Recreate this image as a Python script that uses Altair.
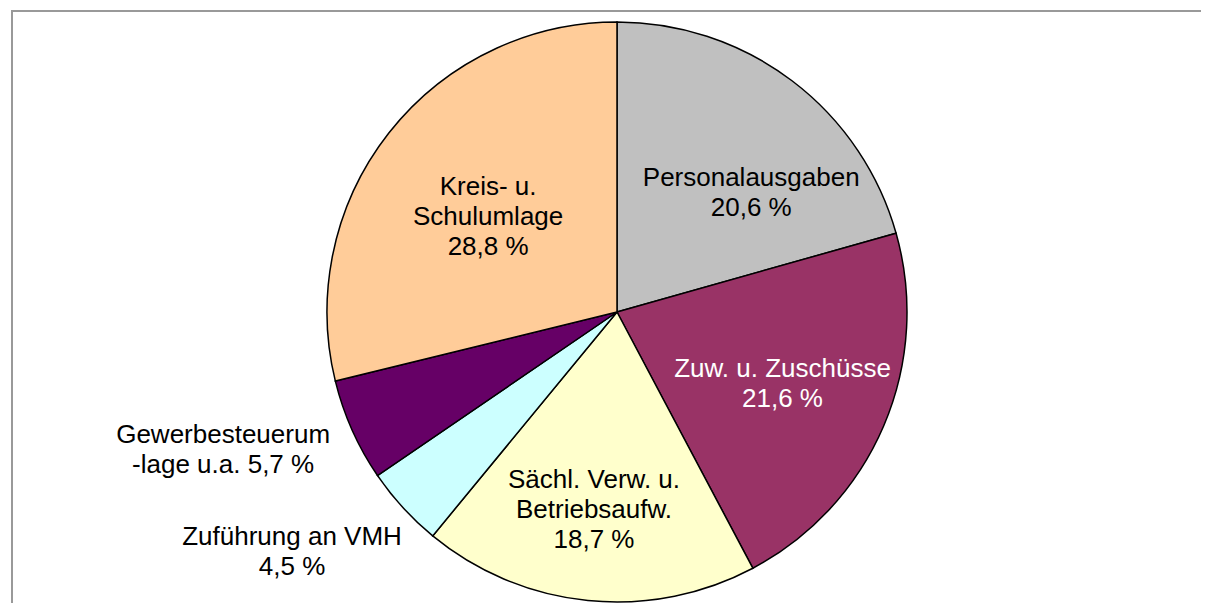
import altair as alt
import pandas as pd

# --- data ---
categories = [
    "Personalausgaben",
    "Zuw. u. Zuschüsse",
    "Sächl. Verw. u. Betriebsaufw.",
    "Zuführung an VMH",
    "Gewerbesteuerumlage u.a.",
    "Kreis- u. Schulumlage",
]
values = [20.6, 21.6, 18.7, 4.5, 5.7, 28.8]
labels = [
    "Personalausgaben\n20,6 %",
    "Zuw. u. Zuschüsse\n21,6 %",
    "Sächl. Verw. u.\nBetriebsaufw.\n18,7 %",
    "Zuführung an VMH\n4,5 %",
    "Gewerbesteuerum\n-lage u.a. 5,7 %",
    "Kreis- u.\nSchulumlage\n28,8 %",
]

# --- style / layout ---
colors = ["#C0C0C0", "#993366", "#FFFFCC", "#CCFFFF", "#660066", "#FFCC99"]
label_radius = [176, 180, 199, 401, 416, 160]
label_dx = [28, 0, -3, -29, -14, -3]
label_dy = [6, -14, -30, -46, -47, -26]
W, H = 1193, 595
CX, CY, R = 609, 304, 290

df = pd.DataFrame({
    "cat": categories,
    "value": values,
    "label": labels,
    "idx": list(range(len(categories))),
})

base = alt.Chart(df)

pie = base.mark_arc(outerRadius=R, stroke="black", strokeWidth=1.5).encode(
    theta=alt.Theta("value:Q", stack=True),
    color=alt.Color("cat:N", scale=alt.Scale(domain=categories, range=colors), legend=None),
    order=alt.Order("idx:Q"),
    x=alt.value(CX),
    y=alt.value(CY),
)

layers = [pie]
for i, c in enumerate(categories):
    txt = base.mark_text(
        radius=label_radius[i],
        dx=label_dx[i],
        dy=label_dy[i],
        font="Liberation Sans",
        fontSize=26,
        lineHeight=30,
        lineBreak="\n",
        align="center",
        baseline="middle",
    ).encode(
        theta=alt.Theta("value:Q", stack=True),
        order=alt.Order("idx:Q"),
        detail="cat:N",
        text=alt.condition(alt.datum.cat == c, alt.Text("label:N"), alt.value("")),
        color=alt.condition(alt.datum.cat == "Zuw. u. Zuschüsse", alt.value("white"), alt.value("black")),
        x=alt.value(CX),
        y=alt.value(CY),
    )
    layers.append(txt)

frame_top = base.mark_rule(color="#999999", strokeWidth=2).encode(
    x=alt.value(3), x2=alt.value(W + 20), y=alt.value(3), y2=alt.value(3)
)
frame_left = base.mark_rule(color="#999999", strokeWidth=2).encode(
    x=alt.value(4), x2=alt.value(4), y=alt.value(2), y2=alt.value(H + 20)
)
layers += [frame_top, frame_left]

chart = alt.layer(*layers).properties(
    width=W,
    height=H,
    padding=0,
    autosize=alt.AutoSizeParams(type="none"),
).configure_view(stroke=None)

chart.save("out.html", embed_options={"renderer": "svg", "actions": False})
